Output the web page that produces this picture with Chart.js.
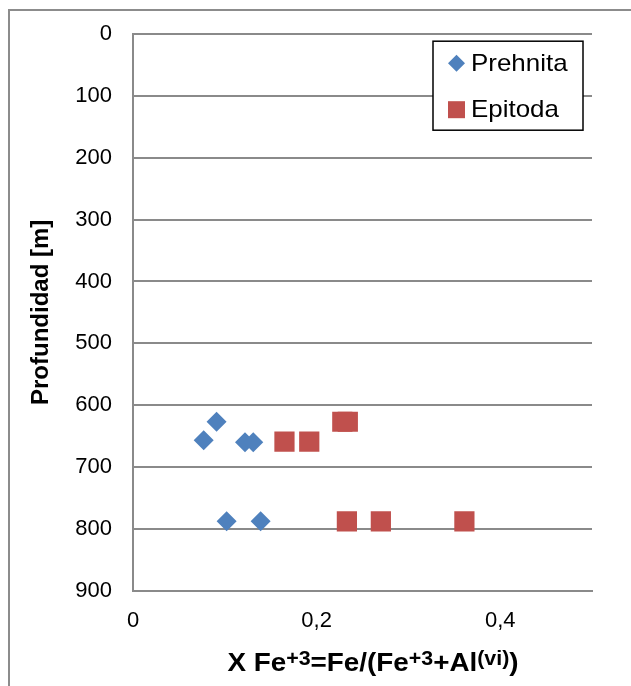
<!DOCTYPE html>
<html>
<head>
<meta charset="utf-8">
<script src="https://cdn.jsdelivr.net/npm/chart.js@4.4.1/dist/chart.umd.min.js"></script>
<style>
  body { margin: 0; background: #fff; }
  #wrap { position: relative; width: 631px; height: 686px; overflow: hidden; }
  #frame { position: absolute; left: 8px; top: 9px; width: 700px; height: 700px;
           border-left: 2px solid #8c8c8c; border-top: 2px solid #8c8c8c; }
  #chart { position: absolute; left: 0; top: 0; }
</style>
</head>
<body>
<div id="wrap">
  <div id="frame"></div>
  <canvas id="chart" width="631" height="686"></canvas>
</div>
<script>
const seriesNames = ["Prehnita", "Epitoda"];
const seriesColors = ["#4F81BD", "#C0504D"];

// X Fe+3 values and depth (m)
const prehnitaX = [0.077, 0.091, 0.122, 0.131, 0.102, 0.139];
const prehnitaY = [657, 627, 660, 660, 788, 788];
const epitodaX = [0.165, 0.192, 0.228, 0.234, 0.233, 0.270, 0.361];
const epitodaY = [659, 659, 627, 627, 788, 788, 788];

const xTickValues = [0, 0.2, 0.4];
const xTickLabels = ["0", "0,2", "0,4"];
const yTickValues = [0, 100, 200, 300, 400, 500, 600, 700, 800, 900];
const yTickLabels = ["0", "100", "200", "300", "400", "500", "600", "700", "800", "900"];

const yTitle = "Profundidad [m]";
// x title pieces: [text, isSuperscript]
const xTitleParts = [["X Fe", false], ["+3", true], ["=Fe/(Fe", false], ["+3", true],
                     ["+Al", false], ["(vi)", true], [")", false]];

function toPoints(xs, ys) {
  return xs.map((x, i) => ({ x: x, y: ys[i] }));
}

const FONT = "'Liberation Sans', Arial, sans-serif";
const gridGray = "#8a8a8a";

// legend box in the top right corner of the plot
const legendBox = {
  id: "legendBox",
  afterDraw(chart) {
    const ctx = chart.ctx;
    const area = chart.chartArea;
    const w = 150, h = 89;
    const left = area.right - 9 - w;
    const top = area.top + 7;
    ctx.save();
    ctx.fillStyle = "#fff";
    ctx.fillRect(left, top, w, h);
    ctx.strokeStyle = "#000";
    ctx.lineWidth = 1.5;
    ctx.strokeRect(left, top, w, h);
    const rows = [top + 22, top + 68.5];
    // diamond
    let cx = left + 23.5, cy = rows[0];
    ctx.fillStyle = seriesColors[0];
    ctx.beginPath();
    ctx.moveTo(cx, cy - 8.5); ctx.lineTo(cx + 8.5, cy); ctx.lineTo(cx, cy + 8.5); ctx.lineTo(cx - 8.5, cy);
    ctx.closePath(); ctx.fill();
    // square
    cy = rows[1];
    ctx.fillStyle = seriesColors[1];
    ctx.fillRect(cx - 8.5, cy - 8.5, 17, 17);
    ctx.fillStyle = "#000";
    ctx.font = "24px " + FONT;
    ctx.textBaseline = "middle";
    const sx = 1.08;
    ctx.translate(left + 38, 0);
    ctx.scale(sx, 1);
    ctx.fillText(seriesNames[0], 0, rows[0] + 1);
    ctx.fillText(seriesNames[1], 0, rows[1] + 1);
    ctx.restore();
  }
};

// x axis title with superscripts
const xTitle = {
  id: "xTitle",
  afterDraw(chart) {
    const ctx = chart.ctx;
    const main = "bold 26px " + FONT;
    const sup = "bold 20px " + FONT;
    const sx = 1.07;
    ctx.save();
    ctx.fillStyle = "#000";
    ctx.textBaseline = "alphabetic";
    let total = 0;
    xTitleParts.forEach(p => { ctx.font = p[1] ? sup : main; total += ctx.measureText(p[0]).width; });
    ctx.translate(373 - total * sx / 2, 0);
    ctx.scale(sx, 1);
    let x = 0;
    const base = 671;
    xTitleParts.forEach(p => {
      ctx.font = p[1] ? sup : main;
      ctx.fillText(p[0], x, p[1] ? base - 6 : base);
      x += ctx.measureText(p[0]).width;
    });
    ctx.restore();
  }
};

new Chart(document.getElementById("chart"), {
  type: "scatter",
  data: {
    datasets: [
      {
        label: seriesNames[0],
        data: toPoints(prehnitaX, prehnitaY),
        pointStyle: "rectRot",
        pointRadius: 10,
        pointHoverRadius: 10,
        backgroundColor: seriesColors[0],
        borderColor: seriesColors[0],
        borderWidth: 0
      },
      {
        label: seriesNames[1],
        data: toPoints(epitodaX, epitodaY),
        pointStyle: "rect",
        pointRadius: 14.3,
        pointHoverRadius: 14.3,
        backgroundColor: seriesColors[1],
        borderColor: seriesColors[1],
        borderWidth: 0
      }
    ]
  },
  options: {
    responsive: false,
    animation: false,
    layout: { padding: { left: 0, top: 32, right: 39, bottom: 0 } },
    plugins: {
      legend: { display: false },
      tooltip: { enabled: false }
    },
    scales: {
      x: {
        type: "linear",
        min: 0,
        max: 0.5,
        afterBuildTicks: (scale) => { scale.ticks = xTickValues.map(v => ({ value: v })); },
        afterFit: (scale) => { scale.height = 95.5; },
        grid: { display: false, drawTicks: false },
        border: { display: true, color: gridGray, width: 2 },
        ticks: {
          padding: 17,
          color: "#000",
          font: { family: FONT, size: 22 },
          maxRotation: 0,
          callback: (value, index) => xTickLabels[index]
        }
      },
      y: {
        type: "linear",
        reverse: true,
        min: 0,
        max: 900,
        afterBuildTicks: (scale) => { scale.ticks = yTickValues.map(v => ({ value: v })); },
        afterFit: (scale) => { scale.width = 133; },
        grid: { color: gridGray, lineWidth: 2, drawTicks: false },
        border: { display: true, color: gridGray, width: 2 },
        ticks: {
          padding: 21,
          color: "#000",
          font: { family: FONT, size: 22 },
          callback: (value, index) => yTickLabels[index]
        },
        title: {
          display: true,
          text: yTitle,
          color: "#000",
          font: { family: FONT, size: 24, weight: "bold" },
          padding: { top: 27, bottom: 0 }
        }
      }
    }
  },
  plugins: [legendBox, xTitle]
});
</script>
</body>
</html>
